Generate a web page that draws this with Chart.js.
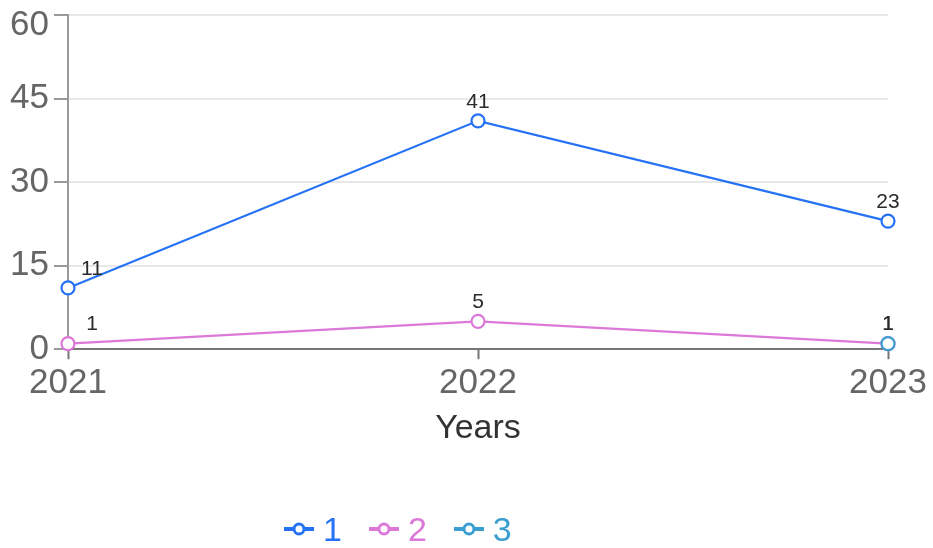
<!DOCTYPE html>
<html>
<head>
<meta charset="utf-8">
<script src="https://cdn.jsdelivr.net/npm/chart.js@4/dist/chart.umd.min.js"></script>
<style>
  html, body { margin: 0; padding: 0; background: #fff; }
  #wrap { position: relative; width: 933px; height: 548px; }
  #legend { position: absolute; left: 283px; top: 512px; font: 34px "Liberation Sans", Arial, sans-serif; line-height: 34px; display: flex; }
  #legend .item { display: flex; align-items: center; margin-right: 26px; }
  #legend svg { margin-right: 8px; }
</style>
</head>
<body>
<div id="wrap">
  <canvas id="lineChart" width="933" height="548"></canvas>
  <div id="legend"></div>
</div>
<script>
var years = ['2021', '2022', '2023'];
var serie1 = [11, 41, 23];
var serie2 = [1, 5, 1];
var serie3 = [null, null, 1];
var serieNames = ['1', '2', '3'];
var serieColors = ['#2672f5', '#dc78d8', '#3a9fd0'];
var yTicks = [0, 15, 30, 45, 60];

var font = '"Liberation Sans", Arial, sans-serif';

// etiquetas de valor encima de cada punto
var valueLabels = {
    id: 'valueLabels',
    afterDatasetsDraw: function(chart) {
        var ctx = chart.ctx;
        ctx.save();
        ctx.font = '21px ' + font;
        ctx.fillStyle = '#2a2a2a';
        ctx.textAlign = 'center';
        ctx.textBaseline = 'middle';
        chart.data.datasets.forEach(function(ds, d) {
            var meta = chart.getDatasetMeta(d);
            meta.data.forEach(function(pt, i) {
                var v = ds.data[i];
                if (v === null || v === undefined) return;
                var dx = i === 0 ? 24 : 0;
                ctx.fillText(String(v), pt.x + dx, pt.y - 19);
            });
        });
        ctx.restore();
    }
};

// el ultimo tick del eje y se dibuja un poco mas abajo para que no se corte
var topTick = {
    id: 'topTick',
    afterDraw: function(chart) {
        var y = chart.scales.y;
        var ctx = chart.ctx;
        var v = yTicks[yTicks.length - 1];
        ctx.save();
        ctx.font = '35px ' + font;
        ctx.fillStyle = '#666';
        ctx.textAlign = 'right';
        ctx.textBaseline = 'middle';
        ctx.fillText(String(v), y.right - 14 - 5, y.getPixelForValue(v) + 10);
        ctx.restore();
    }
};

var allSeries = [serie1, serie2, serie3];
var datasets = allSeries.map(function(s, i) {
    return {
        label: serieNames[i],
        data: s,
        order: allSeries.length - i,
        borderColor: serieColors[i],
        backgroundColor: '#fff',
        pointBackgroundColor: '#fff',
        pointBorderColor: serieColors[i],
        pointRadius: 6.5,
        pointBorderWidth: 2.2,
        borderWidth: 2.2,
        tension: 0,
        clip: false
    };
});

var ctx = document.getElementById('lineChart').getContext('2d');
var chart = new Chart(ctx, {
    type: 'line',
    data: { labels: years, datasets: datasets },
    options: {
        responsive: false,
        animation: false,
        layout: { padding: { top: 15, right: 45, bottom: 99, left: 0 } },
        plugins: {
            legend: { display: false },
            tooltip: { enabled: false }
        },
        scales: {
            x: {
                offset: false,
                grid: { drawOnChartArea: false, drawTicks: true, tickLength: 10, tickColor: '#777', tickWidth: 2 },
                border: { color: '#777', width: 2 },
                ticks: { color: '#666', font: { family: font, size: 35 }, padding: 3, maxRotation: 0 },
                title: { display: true, text: 'Years', color: '#333', font: { family: font, size: 34 }, padding: { top: 1, bottom: 0 } }
            },
            y: {
                min: 0,
                max: 60,
                afterBuildTicks: function(scale) {
                    scale.ticks = yTicks.map(function(v) { return { value: v }; });
                },
                afterFit: function(scale) {
                    scale.width = 68;
                    scale.paddingTop = 0;
                    scale.paddingBottom = 0;
                },
                grid: { color: '#e8e8e8', lineWidth: 2, tickLength: 14, tickColor: '#999', tickWidth: 2 },
                border: { color: '#999', width: 2 },
                ticks: {
                    color: '#666',
                    font: { family: font, size: 35 },
                    padding: 5,
                    callback: function(v) { return v === yTicks[yTicks.length - 1] ? '' : v; }
                }
            }
        }
    },
    plugins: [valueLabels, topTick]
});

// leyenda html
var legend = document.getElementById('legend');
serieNames.forEach(function(n, i) {
    var c = serieColors[i];
    var item = document.createElement('div');
    item.className = 'item';
    item.style.color = c;
    item.innerHTML = '<svg width="32" height="14"><line x1="1" y1="7" x2="31" y2="7" stroke="' + c +
        '" stroke-width="4"/><circle cx="16" cy="7" r="5" fill="#fff" stroke="' + c + '" stroke-width="3"/></svg>' + n;
    legend.appendChild(item);
});
</script>
</body>
</html>
